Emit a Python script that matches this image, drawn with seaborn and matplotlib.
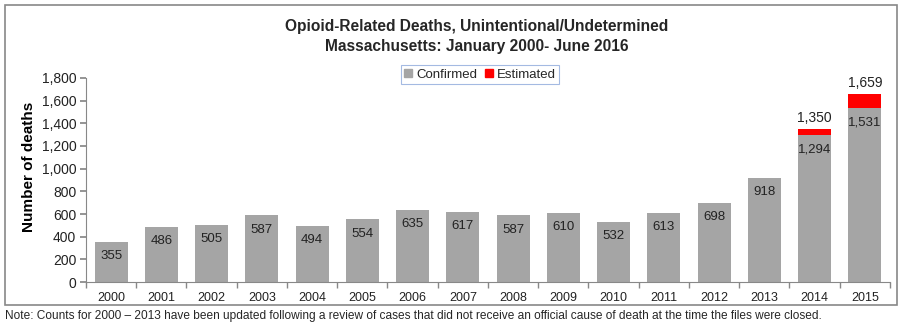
import matplotlib
matplotlib.use("Agg")
import matplotlib.pyplot as plt
import seaborn as sns
import pandas as pd
from matplotlib.patches import Rectangle, Patch
from matplotlib.ticker import FuncFormatter, FixedLocator

years = ["2000", "2001", "2002", "2003", "2004", "2005", "2006", "2007",
         "2008", "2009", "2010", "2011", "2012", "2013", "2014", "2015"]
confirmed = [355, 486, 505, 587, 494, 554, 635, 617, 587, 610, 532, 613, 698, 918, 1294, 1531]
estimated = [0, 0, 0, 0, 0, 0, 0, 0, 0, 0, 0, 0, 0, 0, 56, 128]
totals = [c + e for c, e in zip(confirmed, estimated)]

sns.set_theme(style="white")
plt.rcParams['font.family'] = ['Liberation Sans', 'DejaVu Sans']

GRAY = "#A5A5A5"
RED = "#FF0000"
AX_COL = "#888888"
TXT = "#222222"

df = pd.DataFrame({"year": years, "confirmed": confirmed, "total": totals})

fig = plt.figure(figsize=(9.03, 3.26), dpi=100)
ax = fig.add_axes([86/903, 1-282/326, (890-86)/903, (282-78)/326])

sns.barplot(data=df, x="year", y="total", color=RED, saturation=1, width=0.66,
            linewidth=0, edgecolor="none", ax=ax)
sns.barplot(data=df, x="year", y="confirmed", color=GRAY, saturation=1, width=0.66,
            linewidth=0, edgecolor="none", ax=ax)

ax.set_ylim(0, 1800)
ax.set_xlim(-0.5, len(years) - 0.5)
ax.yaxis.set_major_locator(FixedLocator(range(0, 1801, 200)))
ax.yaxis.set_major_formatter(FuncFormatter(lambda v, p: f"{int(v):,}"))
ax.set_xlabel("")
ax.set_ylabel("Number of deaths", fontsize=11, fontweight="bold", color="black")
ax.yaxis.set_label_coords(-0.062, 0.565)

for s in ["top", "right"]:
    ax.spines[s].set_visible(False)
for s in ["left", "bottom"]:
    ax.spines[s].set_color(AX_COL)
    ax.spines[s].set_linewidth(0.8)

ax.tick_params(axis="y", which="major", left=True, length=4, color=AX_COL, labelsize=10, labelcolor=TXT, pad=3)
ax.tick_params(axis="x", which="major", bottom=True, length=0, labelsize=9, labelcolor=TXT, pad=7)
ax.set_xticks([i + 0.5 for i in range(-1, len(years))], minor=True)
ax.tick_params(axis="x", which="minor", bottom=True, length=4, color=AX_COL)

# data labels
for i, (c, e, t) in enumerate(zip(confirmed, estimated, totals)):
    ax.annotate(f"{c:,}", (i, c), xytext=(0, -6), textcoords="offset points",
                ha="center", va="top", fontsize=9.5, color=TXT)
    if e > 0:
        ax.annotate(f"{t:,}", (i, t), xytext=(0, 3), textcoords="offset points",
                    ha="center", va="bottom", fontsize=10, color=TXT)

leg = ax.legend(handles=[Patch(color=GRAY, label="Confirmed"), Patch(color=RED, label="Estimated")],
                loc="upper center", bbox_to_anchor=(0.49, 1.095), ncol=2, frameon=True,
                fontsize=9.5, handlelength=0.6, handleheight=0.6, handletextpad=0.3,
                columnspacing=0.6, borderpad=0.25, fancybox=False)
leg.get_frame().set_edgecolor("#8EA9DB")
leg.get_frame().set_linewidth(0.8)

fig.text(477/903, 1-26/326, "Opioid-Related Deaths, Unintentional/Undetermined",
         ha="center", va="center", fontsize=11.2, fontweight="bold")
fig.text(477/903, 1-46/326, "Massachusetts: January 2000- June 2016",
         ha="center", va="center", fontsize=11.2, fontweight="bold")

fig.patches.append(Rectangle((5/903, 1-305/326), 892/903, 300/326, transform=fig.transFigure,
                             fill=False, edgecolor="#888888", linewidth=1.2))

fig.text(5/903, 1-316/326,
         "Note: Counts for 2000 \u2013 2013 have been updated following a review of cases that did not receive an official cause of death at the time the files were closed.",
         ha="left", va="center", fontsize=8.6)

fig.savefig("out.png", dpi=100)
